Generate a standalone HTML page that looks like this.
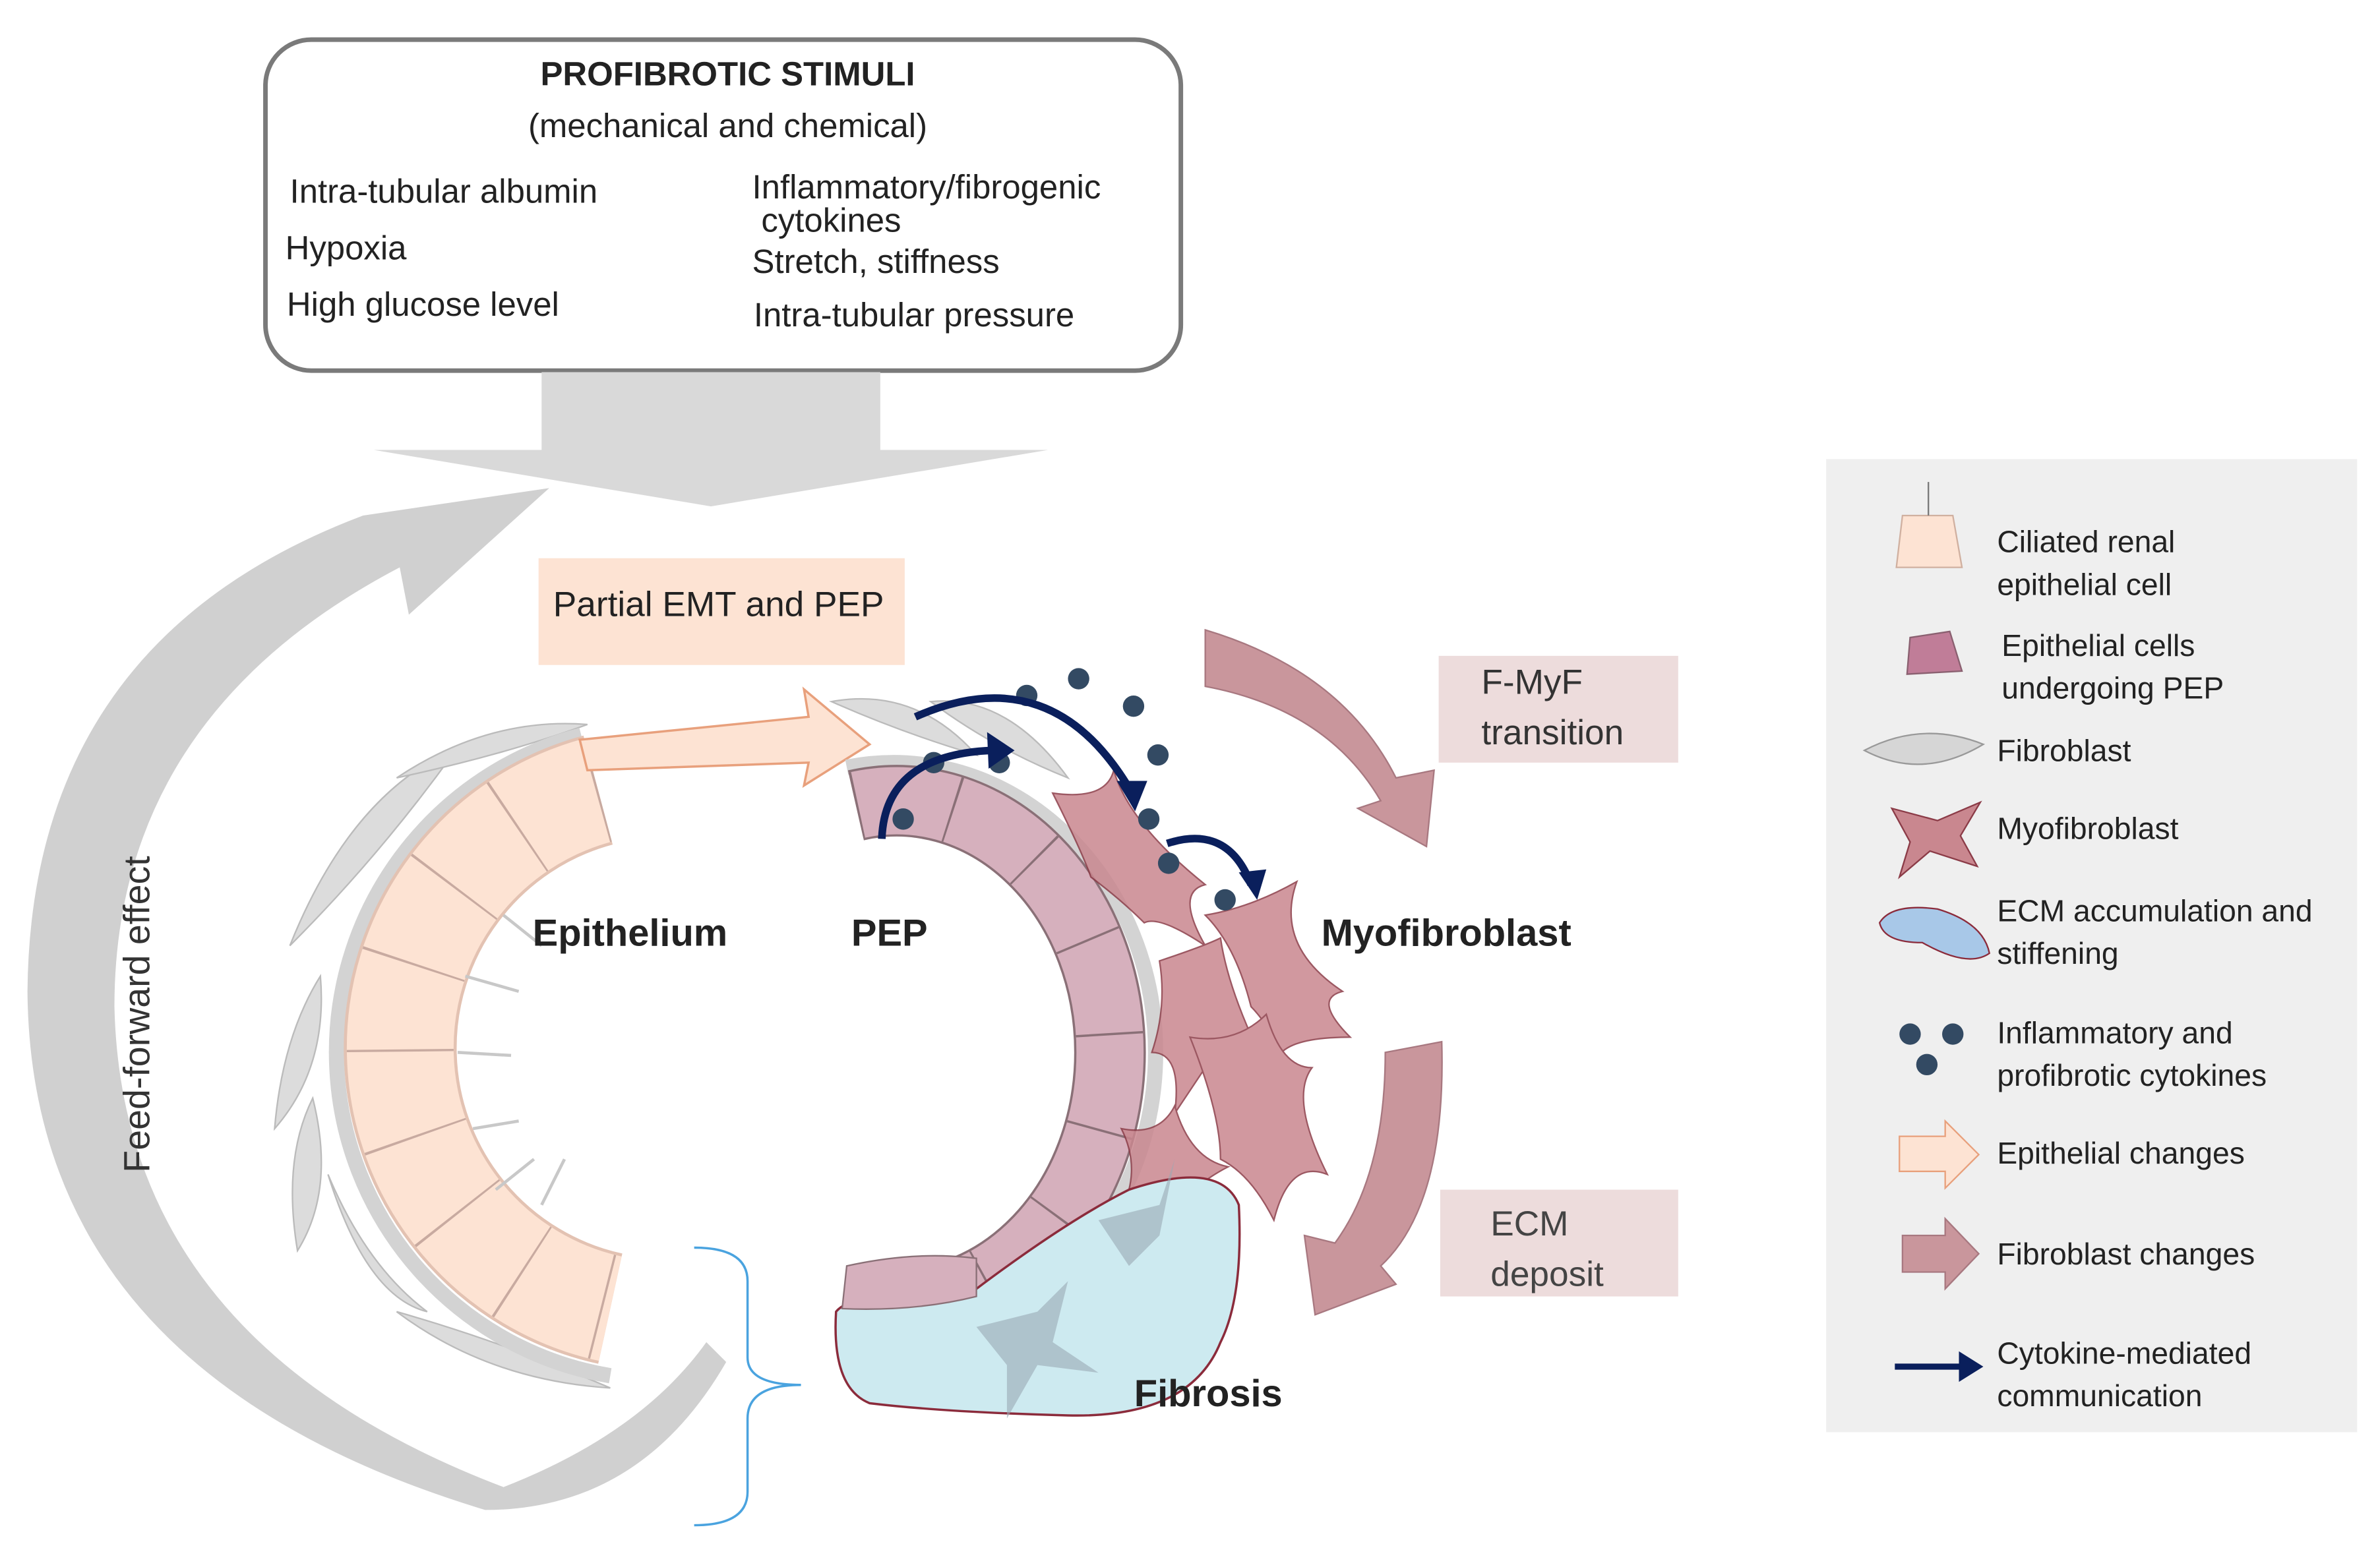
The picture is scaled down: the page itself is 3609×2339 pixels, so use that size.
<!DOCTYPE html>
<html><head><meta charset="utf-8"><style>
html,body{margin:0;padding:0;background:#fff;}
svg{display:block;}
text{font-family:"Liberation Sans","DejaVu Sans",sans-serif;}
</style></head><body>
<svg width="3609" height="2339" viewBox="0 0 1560 1011" preserveAspectRatio="none" xmlns="http://www.w3.org/2000/svg">
<rect width="1560" height="1011" fill="#fff"/>
<!-- top box -->
<rect x="174" y="26" width="600" height="217" rx="30" fill="#fff" stroke="#7a7a7a" stroke-width="3"/>
<g font-size="22" fill="#222">
<text x="477" y="56" text-anchor="middle" font-weight="bold">PROFIBROTIC STIMULI</text>
<text x="477" y="90" text-anchor="middle">(mechanical and chemical)</text>
<text x="190" y="133">Intra-tubular albumin</text>
<text x="187" y="170">Hypoxia</text>
<text x="188" y="207">High glucose level</text>
<text x="493" y="130">Inflammatory/fibrogenic</text>
<text x="499" y="152">cytokines</text>
<text x="493" y="179">Stretch, stiffness</text>
<text x="494" y="214">Intra-tubular pressure</text>
</g>
<!-- big down arrow -->
<polygon points="355,244 577,244 577,295 687,295 466,332 245,295 355,295" fill="#d9d9d9"/>
<!-- feed forward arrow -->
<path d="M360,320 L268,403 L262,372 Q75,470 75,660 Q80,880 330,975 Q420,940 463,880 L476,893 Q420,990 318,990 Q20,900 18,650 Q20,420 238,338 Z" fill="#d0d0d0"/>
<text transform="translate(98,665) rotate(-90)" text-anchor="middle" font-size="24" fill="#333">Feed-forward  effect</text>
<!-- boxes -->
<rect x="353" y="366" width="240" height="70" fill="#fde3d3"/>
<text x="471" y="404" text-anchor="middle" font-size="23" fill="#222">Partial EMT and PEP</text>
<rect x="943" y="430" width="157" height="70" fill="#eddcdc"/>
<text x="971" y="455" font-size="23" fill="#333">F-MyF</text>
<text x="971" y="488" font-size="23" fill="#333">transition</text>
<rect x="944" y="780" width="156" height="70" fill="#eddcdc"/>
<text x="977" y="810" font-size="23" fill="#444">ECM</text>
<text x="977" y="843" font-size="23" fill="#444">deposit</text>
<!-- brown arrows -->
<path d="M790,413 Q880,440 915,510 L940,505 L935,555 L890,530 L905,525 Q870,465 790,450 Z" fill="#c9969c" stroke="#a87880"/>
<path d="M908,690 L945,683 Q948,790 905,830 L915,842 L862,862 L855,810 L875,815 Q908,770 908,690 Z" fill="#c9969c" stroke="#a87880"/>
<!-- fibroblasts gray -->
<g fill="#dcdcdc" stroke="#bbb" stroke-width="1">
<path d="M190,620 Q230,520 300,490 Q250,560 190,620Z"/>
<path d="M260,510 Q320,470 385,475 Q330,495 260,510Z"/>
<path d="M180,740 Q185,680 210,640 Q215,700 180,740Z"/>
<path d="M195,820 Q185,760 205,720 Q220,780 195,820Z"/>
<path d="M215,770 Q240,830 280,860 Q240,850 215,770Z"/>
<path d="M260,860 Q330,880 400,910 Q320,905 260,860Z"/>
<path d="M545,460 Q600,450 640,495 Q590,480 545,460Z"/>
<path d="M610,460 Q660,455 700,510 Q650,490 610,460Z"/>
</g>
<!-- epithelium ring -->
<path d="M381,482 A215,215 0 0 0 400,902" fill="none" stroke="#d3d3d3" stroke-width="10"/>
<path d="M392,518 A175,175 0 0 0 400,858" fill="none" stroke="#e3c2b2" stroke-width="74"/>
<path d="M392,518 A175,175 0 0 0 400,858" fill="none" stroke="#fde3d3" stroke-width="70"/>
<path d="M392,518 A175,175 0 0 0 400,858" fill="none" stroke="#c8aaa0" stroke-width="70" stroke-dasharray="1.5 56"/>
<g stroke="#c8c8c8" stroke-width="2">
<line x1="300" y1="690" x2="335" y2="692"/><line x1="305" y1="640" x2="340" y2="650"/><line x1="310" y1="740" x2="340" y2="735"/>
<line x1="325" y1="780" x2="350" y2="760"/><line x1="330" y1="600" x2="355" y2="620"/><line x1="355" y1="790" x2="370" y2="760"/>
</g>
<!-- peach arrow -->
<polygon points="380,485 530,470 527,452 570,488 527,515 530,500 385,505" fill="#fde3d3" stroke="#e8a07c" stroke-width="1.5"/>
<!-- PEP ring -->
<path d="M555,503 A172,190 0 1 1 555,877" fill="none" stroke="#d3d3d3" stroke-width="10"/>
<path d="M561,528 A140,165 0 1 1 561,852" fill="none" stroke="#8a7077" stroke-width="47"/>
<path d="M561,528 A140,165 0 1 1 561,852" fill="none" stroke="#d6b0bd" stroke-width="44"/>
<path d="M561,528 A140,165 0 1 1 561,852" fill="none" stroke="#8a7077" stroke-width="44" stroke-dasharray="1.5 62"/>
<!-- myofibroblasts -->
<g fill="#c9878f" stroke="#8b3b47" stroke-width="1" opacity="0.85">
<path d="M690,520 Q725,525 730,505 Q740,540 790,580 Q770,585 790,620 Q760,600 750,605 Q735,590 715,575 Q710,560 690,520Z"/>
<path d="M760,630 Q790,620 800,615 Q805,650 830,700 Q810,705 790,700 Q780,715 770,730 Q775,690 755,690 Q765,660 760,630Z"/>
<path d="M790,600 Q820,595 850,578 Q835,620 880,650 Q860,655 885,680 Q850,680 840,690 Q830,670 820,660 Q810,620 790,600Z"/>
<path d="M780,680 Q810,685 830,665 Q840,700 860,700 Q845,720 870,770 Q845,760 835,800 Q820,770 800,760 Q800,730 780,680Z"/>
<path d="M735,740 Q760,745 770,725 Q780,760 805,765 Q785,775 760,800 Q755,780 740,780 Q745,760 735,740Z"/>
</g>
<!-- fibrosis blob -->
<path d="M548,860 Q560,845 640,845 Q700,800 740,780 Q800,760 812,790 Q815,850 800,880 Q780,930 700,928 Q620,926 570,920 Q545,910 548,860Z" fill="#cdeaf0" stroke="#8b2b3b" stroke-width="1.5"/>
<path d="M555,830 Q600,820 640,825 L640,850 Q600,860 552,858Z" fill="#d6b0bd" stroke="#8a7077"/>
<g fill="#9aa8b4" opacity="0.6"><polygon points="640,870 680,860 700,840 690,880 720,900 680,895 660,930 660,895"/><polygon points="720,800 760,790 770,760 760,810 740,830"/></g>
<!-- dots -->
<g fill="#334a63">
<circle cx="673" cy="456" r="7"/><circle cx="707" cy="445" r="7"/><circle cx="743" cy="463" r="7"/><circle cx="759" cy="495" r="7"/>
<circle cx="655" cy="500" r="7"/><circle cx="612" cy="500" r="7"/><circle cx="592" cy="537" r="7"/><circle cx="753" cy="537" r="7"/>
<circle cx="766" cy="566" r="7"/><circle cx="803" cy="590" r="7"/>
</g>
<!-- navy arrows -->
<g fill="none" stroke="#0a1f5c" stroke-width="5">
<path d="M578,550 Q580,495 650,492"/>
<path d="M600,470 Q690,430 742,520"/>
<path d="M765,553 Q805,540 820,580"/>
</g>
<g fill="#0a1f5c">
<polygon points="665,492 647,480 648,504"/>
<polygon points="744,532 732,512 752,512"/>
<polygon points="824,590 812,572 830,570"/>
</g>
<!-- labels -->
<g font-weight="bold" font-size="25" fill="#222">
<text x="413" y="620" text-anchor="middle">Epithelium</text>
<text x="583" y="620" text-anchor="middle">PEP</text>
<text x="948" y="620" text-anchor="middle">Myofibroblast</text>
<text x="792" y="922" text-anchor="middle">Fibrosis</text>
</g>
<!-- bracket -->
<path d="M455,818 Q490,818 490,840 L490,890 Q490,908 525,908 Q490,908 490,930 L490,978 Q490,1000 455,1000" fill="none" stroke="#4aa3df" stroke-width="1.5"/>
<!-- legend -->
<rect x="1197" y="301" width="348" height="638" fill="#efefef"/>
<path d="M1247,338 L1280,338 L1286,372 L1243,372 Z" fill="#fde3d3" stroke="#d0b0a0"/>
<line x1="1264" y1="316" x2="1264" y2="338" stroke="#777"/>
<path d="M1252,418 L1278,414 L1286,440 L1250,442 Z" fill="#c07d98" stroke="#8a6070"/>
<path d="M1222,492 Q1260,472 1300,488 Q1260,512 1222,492Z" fill="#d6d6d6" stroke="#999"/>
<polygon points="1240,530 1270,538 1298,526 1285,548 1296,568 1265,558 1245,575 1252,552" fill="#c9878f" stroke="#8b3b47"/>
<path d="M1232,605 Q1240,592 1270,596 Q1300,605 1304,625 Q1290,635 1260,618 Q1235,618 1232,605Z" fill="#a8c8e8" stroke="#8b2b3b"/>
<g fill="#334a63"><circle cx="1252" cy="678" r="7"/><circle cx="1280" cy="678" r="7"/><circle cx="1263" cy="698" r="7"/></g>
<polygon points="1245,745 1275,745 1275,735 1297,757 1275,779 1275,768 1245,768" fill="#fde3d3" stroke="#e8a07c"/>
<polygon points="1247,810 1275,810 1275,799 1297,822 1275,845 1275,834 1247,834" fill="#c9969c" stroke="#a87880"/>
<line x1="1242" y1="896" x2="1286" y2="896" stroke="#0a1f5c" stroke-width="4"/>
<polygon points="1300,896 1284,886 1284,906" fill="#0a1f5c"/>
<g font-size="20" fill="#222">
<text x="1309" y="362">Ciliated renal</text><text x="1309" y="390">epithelial cell</text>
<text x="1312" y="430">Epithelial cells</text><text x="1312" y="458">undergoing PEP</text>
<text x="1309" y="499">Fibroblast</text>
<text x="1309" y="550">Myofibroblast</text>
<text x="1309" y="604">ECM accumulation and</text><text x="1309" y="632">stiffening</text>
<text x="1309" y="684">Inflammatory and</text><text x="1309" y="712">profibrotic cytokines</text>
<text x="1309" y="763">Epithelial changes</text>
<text x="1309" y="829">Fibroblast changes</text>
<text x="1309" y="894">Cytokine-mediated</text><text x="1309" y="922">communication</text>
</g>
</svg>
</body></html>
